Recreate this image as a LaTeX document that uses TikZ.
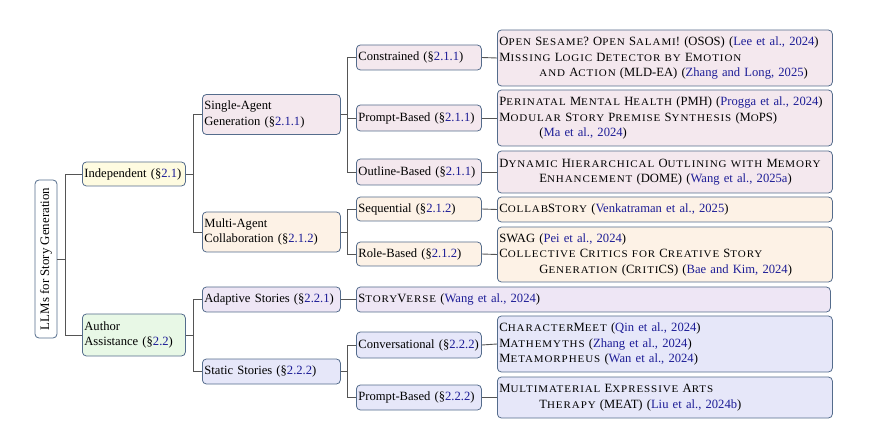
\documentclass[tikz,border=0pt]{standalone}
\usepackage{fontspec}
\setmainfont{Liberation Serif}
\newfontfamily\scfont[LetterSpace=9, FakeStretch=1.08]{Liberation Serif}
\usetikzlibrary{positioning}

\definecolor{citeblue}{RGB}{28,28,150}
\definecolor{boxline}{RGB}{84,108,140}
\definecolor{linkgray}{RGB}{85,85,85}
\definecolor{fillroot}{RGB}{255,255,255}
\definecolor{fillind}{RGB}{254,251,224}
\definecolor{fillauth}{RGB}{232,248,230}
\definecolor{fillsingle}{RGB}{244,232,238}
\definecolor{fillmulti}{RGB}{253,242,230}
\definecolor{filladapt}{RGB}{238,230,245}
\definecolor{fillstatic}{RGB}{230,231,249}

% fake small capitals and coloured citation / section numbers
\newcommand\smc[1]{{\scfont\fontsize{10.2pt}{15.5pt}\selectfont #1}}
\newcommand\cit[1]{\textcolor{citeblue}{#1}}
\newcommand\secn[1]{(\S\textcolor{citeblue}{#1})}
\newcommand\ind{\hspace*{40pt}}

\tikzset{
  treebox/.style={draw=boxline, line width=0.8pt, rounded corners=4pt,
    inner xsep=2pt, inner ysep=0pt, align=left, anchor=west,
    font=\fontsize{12.6pt}{15.5pt}\selectfont},
  lvone/.style={treebox, text width=99pt},
  lvtwo/.style={treebox, text width=134pt},
  lvthree/.style={treebox, text width=121pt},
  leafbox/.style={treebox, text width=331pt},
  link/.style={draw=linkgray, line width=0.9pt}
}

\begin{document}
\begin{tikzpicture}[x=1pt,y=-1pt]
\useasboundingbox (0,0) rectangle (870,430);

% root
\node[draw=boxline, line width=0.8pt, rounded corners=4pt, fill=fillroot,
      rotate=90, minimum width=158pt, minimum height=22pt, inner sep=0pt,
      font=\fontsize{12.9pt}{15.5pt}\selectfont] (root) at (46,259)
      {LLMs for Story Generation};

% first level
\node[lvone, fill=fillind, minimum height=24pt] (ind) at (82,174) {Independent \secn{2.1}};
\node[lvone, fill=fillauth, minimum height=42pt] (auth) at (82,335) {Author\\Assistance \secn{2.2}};

% second level
\node[lvtwo, fill=fillsingle, minimum height=40pt] (single) at (202,114.5) {Single-Agent\\Generation \secn{2.1.1}};
\node[lvtwo, fill=fillmulti, minimum height=40pt] (multi) at (202,232) {Multi-Agent\\Collaboration \secn{2.1.2}};
\node[lvtwo, fill=filladapt, minimum height=25pt] (adapt) at (202,299.5) {Adaptive Stories \secn{2.2.1}};
\node[lvtwo, fill=fillstatic, minimum height=25pt] (static) at (202,371.5) {Static Stories \secn{2.2.2}};

% third level
\node[lvthree, fill=fillsingle, minimum height=25pt] (constr) at (356,57.5) {Constrained \secn{2.1.1}};
\node[lvthree, fill=fillsingle, minimum height=26pt] (promptA) at (356,118) {Prompt-Based \secn{2.1.1}};
\node[lvthree, fill=fillsingle, minimum height=26pt] (outline) at (356,172) {Outline-Based \secn{2.1.1}};
\node[lvthree, fill=fillmulti, minimum height=24pt] (seq) at (356,209) {Sequential \secn{2.1.2}};
\node[lvthree, fill=fillmulti, minimum height=24pt] (role) at (356,254) {Role-Based \secn{2.1.2}};
\node[lvthree, fill=fillstatic, minimum height=26pt] (conv) at (356,345) {Conversational \secn{2.2.2}};
\node[lvthree, fill=fillstatic, minimum height=25pt] (promptB) at (356,397.5) {Prompt-Based \secn{2.2.2}};

% leaves
\node[leafbox, fill=fillsingle, minimum height=56pt] (leafA) at (497,58)
 {O\smc{PEN} S\smc{ESAME}? O\smc{PEN} S\smc{ALAMI}! (OSOS) (\cit{Lee et al., 2024})\\
  M\smc{ISSING} L\smc{OGIC} D\smc{ETECTOR BY} E\smc{MOTION}\\
  \ind\smc{AND} A\smc{CTION} (MLD-EA) (\cit{Zhang and Long, 2025})};
\node[leafbox, fill=fillsingle, minimum height=56pt] (leafB) at (497,118)
 {P\smc{ERINATAL} M\smc{ENTAL} H\smc{EALTH} (PMH) (\cit{Progga et al., 2024})\\
  M\smc{ODULAR} S\smc{TORY} P\smc{REMISE} S\smc{YNTHESIS} (M\smc{O}PS)\\
  \ind(\cit{Ma et al., 2024})};
\node[leafbox, fill=fillsingle, minimum height=42pt] (leafC) at (497,172)
 {D\smc{YNAMIC} H\smc{IERARCHICAL} O\smc{UTLINING WITH} M\smc{EMORY}\\
  \ind E\smc{NHANCEMENT} (DOME) (\cit{Wang et al., 2025a})};
\node[leafbox, fill=fillmulti, minimum height=25pt] (leafD) at (497,209.5)
 {C\smc{OLLAB}S\smc{TORY} (\cit{Venkatraman et al., 2025})};
\node[leafbox, fill=fillmulti, minimum height=55pt] (leafE) at (497,254.5)
 {SWAG (\cit{Pei et al., 2024})\\
  C\smc{OLLECTIVE} C\smc{RITICS FOR} C\smc{REATIVE} S\smc{TORY}\\
  \ind G\smc{ENERATION} (C\smc{RITI}CS) (\cit{Bae and Kim, 2024})};
\node[treebox, text width=470pt, fill=filladapt, minimum height=25pt] (leafF) at (356,299.5)
 {S\smc{TORY}V\smc{ERSE} (\cit{Wang et al., 2024})};
\node[leafbox, fill=fillstatic, minimum height=56pt] (leafG) at (497,344)
 {C\smc{HARACTER}M\smc{EET} (\cit{Qin et al., 2024})\\
  M\smc{ATHEMYTHS} (\cit{Zhang et al., 2024})\\
  M\smc{ETAMORPHEUS} (\cit{Wan et al., 2024})};
\node[leafbox, fill=fillstatic, minimum height=41pt] (leafH) at (497,397.5)
 {M\smc{ULTIMATERIAL} E\smc{XPRESSIVE} A\smc{RTS}\\
  \ind T\smc{HERAPY} (MEAT) (\cit{Liu et al., 2024b})};

% connectors
\draw[link] (root.south) -- ++(8,0) |- (ind.west);
\draw[link] (root.south) -- ++(8,0) |- (auth.west);

\draw[link] (ind.east) -- ++(8,0) |- (single.west);
\draw[link] (ind.east) -- ++(8,0) |- (multi.west);
\draw[link] (auth.east) -- ++(8,0) |- (adapt.west);
\draw[link] (auth.east) -- ++(8,0) |- (static.west);

\draw[link] (single.east) -- ++(7,0) |- (constr.west);
\draw[link] (single.east) -- ++(7,0) |- (promptA.west);
\draw[link] (single.east) -- ++(7,0) |- (outline.west);
\draw[link] (multi.east) -- ++(7,0) |- (seq.west);
\draw[link] (multi.east) -- ++(7,0) |- (role.west);
\draw[link] (static.east) -- ++(7,0) |- (conv.west);
\draw[link] (static.east) -- ++(7,0) |- (promptB.west);

\draw[link] (constr.east) -- (leafA.west);
\draw[link] (promptA.east) -- (leafB.west);
\draw[link] (outline.east) -- (leafC.west);
\draw[link] (seq.east) -- (leafD.west);
\draw[link] (role.east) -- (leafE.west);
\draw[link] (adapt.east) -- (leafF.west);
\draw[link] (conv.east) -- (leafG.west);
\draw[link] (promptB.east) -- (leafH.west);
\end{tikzpicture}
\end{document}
